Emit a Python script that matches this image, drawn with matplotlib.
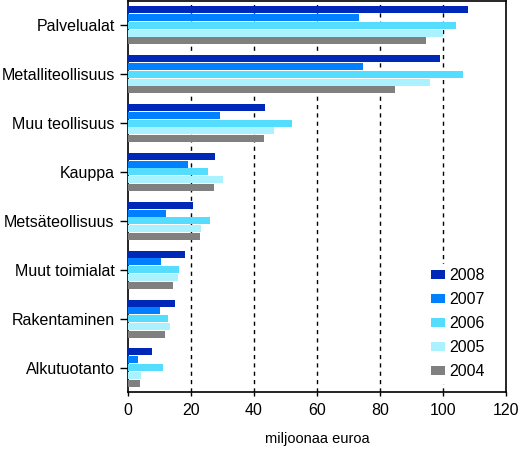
import matplotlib
matplotlib.use("Agg")
import matplotlib.pyplot as plt
import numpy as np

categories = ["Palvelualat", "Metalliteollisuus", "Muu teollisuus", "Kauppa",
              "Metsäteollisuus", "Muut toimialat", "Rakentaminen", "Alkutuotanto"]
years = ["2008", "2007", "2006", "2005", "2004"]
v2008 = [107.9, 99.0, 43.4, 27.5, 20.6, 18.0, 15.1, 7.5]
v2007 = [73.3, 74.6, 29.1, 19.0, 12.0, 10.4, 10.1, 3.1]
v2006 = [104.1, 106.4, 52.0, 25.3, 26.0, 16.1, 12.6, 11.0]
v2005 = [100.0, 95.9, 46.3, 30.1, 23.1, 15.8, 13.2, 4.3]
v2004 = [94.6, 84.7, 43.1, 27.2, 22.8, 14.2, 11.7, 3.7]
series = [v2008, v2007, v2006, v2005, v2004]
colors = ["#0028b8", "#0080ff", "#55ddff", "#aaf2ff", "#808080"]
xticks = [0, 20, 40, 60, 80, 100, 120]

plt.rcParams['font.family'] = ['Liberation Sans', 'DejaVu Sans']

fig = plt.figure(figsize=(5.2, 4.49), dpi=100)
ax = fig.add_axes([0.246, 0.127, 0.727, 0.871])

y = np.arange(len(categories))
pitch = 0.16
h = 0.143
for i, (vals, col, yr) in enumerate(zip(series, colors, years)):
    ax.barh(y + (i - 2) * pitch, vals, height=h, color=col, label=yr, zorder=3)

ax.set_ylim(len(categories) - 0.5, -0.5)
ax.set_xlim(0, 120)
ax.set_xticks(xticks)
ax.set_yticks(y)
ax.set_yticklabels(categories, fontsize=11.5)
ax.tick_params(axis='x', labelsize=11.5, length=3, width=1, direction='out', pad=5)
ax.tick_params(axis='y', length=6, width=1, direction='out')
for xv in xticks[1:-1]:
    ax.axvline(xv, color='black', linestyle=(0, (3, 3)), linewidth=1, zorder=1)
for s in ax.spines.values():
    s.set_linewidth(1.2)
ax.set_xlabel("miljoonaa euroa", fontsize=10.5, labelpad=10)

leg = ax.legend(loc='lower right', bbox_to_anchor=(0.977, 0.0), frameon=True,
                fontsize=11.5, handlelength=0.85, handleheight=0.5,
                labelspacing=0.56, borderpad=0.3, handletextpad=0.25)
leg.get_frame().set_edgecolor('none')
leg.get_frame().set_facecolor('white')
leg.get_frame().set_alpha(1)
leg.set_zorder(5)

fig.savefig("out.png", dpi=100)
